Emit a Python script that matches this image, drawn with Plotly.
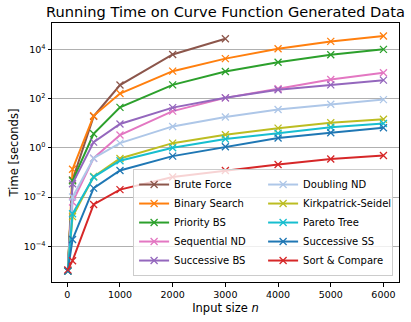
import plotly.graph_objects as go

n = [10, 100, 500, 1000, 2000, 3000, 4000, 5000, 6000]

brute_force = [1e-5, 0.05, 19, 355, 6200, 27000]
binary_search = [1e-5, 0.135, 20, 160, 1300, 4200, 10500, 21000, 35000]
priority_bs = [1e-5, 0.046, 3.7, 44, 360, 1250, 3000, 6000, 10000]
sequential_nd = [1e-5, 0.0063, 0.38, 3.3, 31, 107, 250, 600, 1120]
successive_bs = [1e-5, 0.035, 1.7, 9.3, 43, 107, 230, 360, 560]
doubling_nd = [1e-5, 0.01, 0.38, 1.55, 7.4, 18, 36, 59, 91]
kirkpatrick_seidel = [1e-5, 0.0016, 0.068, 0.37, 1.55, 3.4, 6.3, 10.5, 14.5]
pareto_tree = [1e-5, 0.0021, 0.065, 0.30, 1.0, 2.3, 3.9, 6.8, 9.8]
successive_ss = [1e-5, 1.9e-4, 0.023, 0.12, 0.46, 1.1, 2.5, 4.1, 6.5]
sort_compare = [1.1e-5, 2.6e-5, 0.005, 0.02, 0.065, 0.12, 0.21, 0.35, 0.49]

series = [
    ("Brute Force", brute_force, "#8c564b", 1),
    ("Binary Search", binary_search, "#ff7f0e", 3),
    ("Priority BS", priority_bs, "#2ca02c", 5),
    ("Sequential ND", sequential_nd, "#e377c2", 7),
    ("Successive BS", successive_bs, "#9467bd", 9),
    ("Doubling ND", doubling_nd, "#aec7e8", 2),
    ("Kirkpatrick-Seidel", kirkpatrick_seidel, "#bcbd22", 4),
    ("Pareto Tree", pareto_tree, "#17becf", 6),
    ("Successive SS", successive_ss, "#1f77b4", 8),
    ("Sort & Compare", sort_compare, "#d62728", 10),
]

y_tickvals = [1e-4, 1e-2, 1, 1e2, 1e4]
y_ticktext = ["10<sup>−4</sup>", "10<sup>−2</sup>", "10<sup>0</sup>", "10<sup>2</sup>", "10<sup>4</sup>"]
x_tickvals = [0, 1000, 2000, 3000, 4000, 5000, 6000]

fig = go.Figure()
for name, vals, color, rank in series:
    fig.add_trace(go.Scatter(
        x=n[:len(vals)], y=vals, name=name, mode="lines+markers",
        line=dict(color=color, width=2),
        marker=dict(symbol="x-thin", size=7, line=dict(color=color, width=1.3)),
        legendrank=rank,
    ))

font = "DejaVu Sans"
fig.update_layout(
    width=411, height=322,
    margin=dict(l=52, r=12, t=23, b=40),
    paper_bgcolor="white", plot_bgcolor="white",
    hovermode=False,
    font=dict(family=font, size=10, color="black"),
    title=dict(text="Running Time on Curve Function Generated Data",
               x=0.5, xref="paper", xanchor="center",
               y=0.963, yref="container", yanchor="middle",
               font=dict(size=14.6, family=font)),
    showlegend=True,
    legend=dict(
        orientation="h", x=0.983, xanchor="right", y=0.023, yanchor="bottom",
        entrywidth=84, entrywidthmode="pixels",
        bgcolor="rgba(255,255,255,0.8)", bordercolor="#cccccc", borderwidth=1,
        font=dict(size=10, family=font), itemwidth=30,
        traceorder="normal",
    ),
)
fig.update_xaxes(
    range=[-290, 6295], tickvals=x_tickvals, automargin=False,
    showgrid=False, zeroline=False,
    showline=True, linecolor="black", linewidth=1, mirror=True,
    ticks="outside", ticklen=3.5, tickcolor="black",
    tickfont=dict(size=9.5),
    title=dict(text="Input size <i>n</i>", font=dict(size=11.5), standoff=5),
)
fig.update_yaxes(
    type="log", range=[-5.45, 5.07], tickvals=y_tickvals, ticktext=y_ticktext,
    automargin=False,
    showgrid=True, gridcolor="#b0b0b0", gridwidth=0.8, zeroline=False,
    showline=True, linecolor="black", linewidth=1, mirror=True,
    ticks="outside", ticklen=3.5, tickcolor="black",
    tickfont=dict(size=9.5),
    title=dict(text="Time [seconds]", font=dict(size=11.5), standoff=2),
)

# remove the default 8px page margin so the figure fills the window exactly
fig.write_html("out.html", config={"displayModeBar": False},
               post_script="document.body.style.margin='0px';")
